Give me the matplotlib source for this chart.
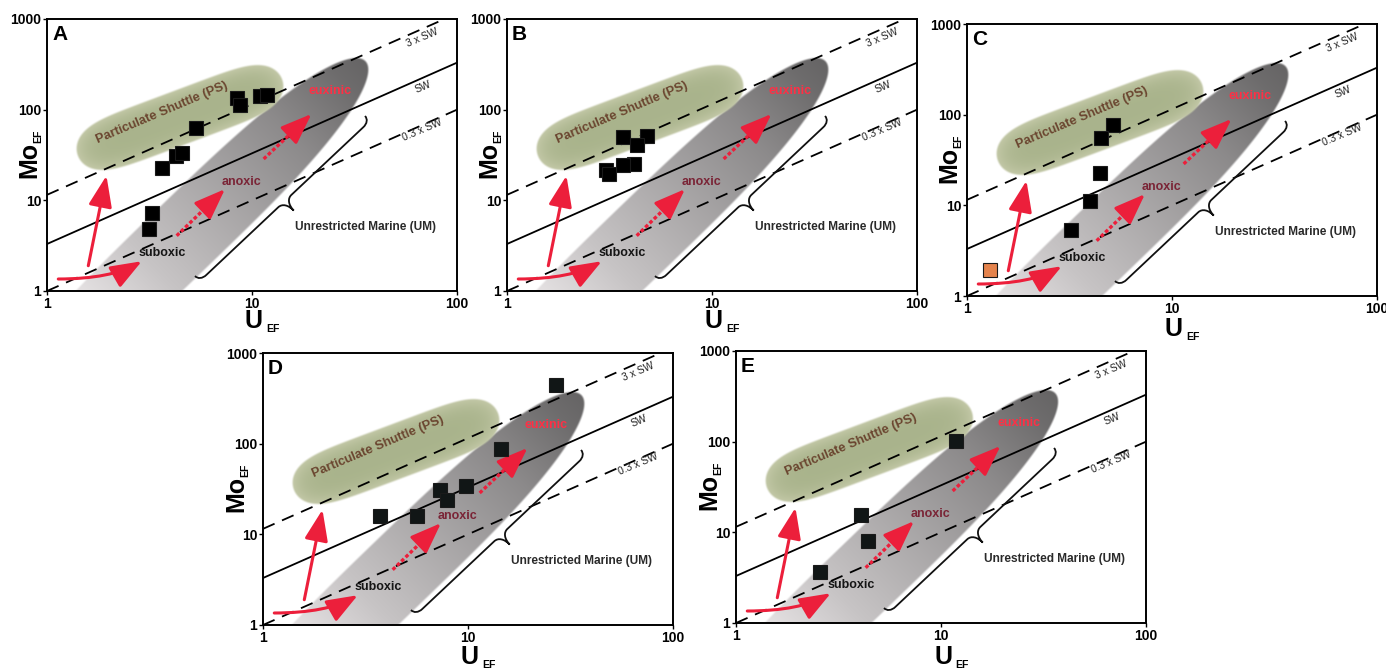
import numpy as np
import matplotlib
matplotlib.use("Agg")
import matplotlib.pyplot as plt
from matplotlib.transforms import Affine2D
from matplotlib.patches import FancyArrowPatch, PathPatch
from matplotlib.path import Path

plt.rcParams['font.family'] = ['Liberation Sans', 'DejaVu Sans']

# ---------------- data ----------------
panel_letters = ['A', 'B', 'C', 'D', 'E']

U_A = [3.64, 4.27, 4.55, 5.35, 8.45, 8.77, 11.0, 11.8, 3.25, 3.13]
Mo_A = [22.9, 30.8, 33.0, 63.4, 135, 114, 141, 144, 7.3, 4.87]

U_B = [3.67, 4.82, 4.31, 4.15, 3.67, 3.04, 3.13]
Mo_B = [50.3, 51.0, 40.4, 25.4, 24.5, 21.6, 19.4]

U_C = [5.15, 4.48, 4.45, 3.97, 3.20]
Mo_C = [77.5, 55.2, 22.6, 11.1, 5.38]
U_C_orange = [1.29]
Mo_C_orange = [1.92]

U_D = [27.0, 14.5, 9.74, 7.33, 7.90, 5.64, 3.74]
Mo_D = [445, 87, 33.7, 30.5, 24.0, 15.8, 15.8]

U_E = [11.8, 4.06, 4.38, 2.56]
Mo_E = [102, 15.6, 8.07, 3.65]

x_ticks = [1, 10, 100]
x_ticklabels = ['1', '10', '100']
y_ticks = [1, 10, 100, 1000]
y_ticklabels = ['1', '10', '100', '1000']

sw_labels = ['0.3 x SW', 'SW', '3 x SW']
sw_intercepts = [1.0, 3.3, 11.5]      # Mo_EF at U_EF = 1
sw_dashed = [True, False, True]
sw_label_pos = [(67.3, 59.7), (68.5, 176.5), (67.3, 628)]

panel_data = {
    'A': [(U_A, Mo_A, 'black')],
    'B': [(U_B, Mo_B, 'black')],
    'C': [(U_C, Mo_C, 'black'), (U_C_orange, Mo_C_orange, '#e4834c')],
    'D': [(U_D, Mo_D, '#111616')],
    'E': [(U_E, Mo_E, '#111616')],
}

# ---------------- layout ----------------
FIG_W, FIG_H = 1386, 670
AX_W, AX_H = 410, 272
panel_pos = {'A': (47, 19), 'B': (507, 19), 'C': (967, 24),
             'D': (263, 353), 'E': (736, 351)}
xlab_off = {'A': -30, 'B': -30, 'C': -33, 'D': -32, 'E': -34}
ylab_off = {'A': -18, 'B': -18, 'C': -18, 'D': -27, 'E': -27}

RED = '#ec1f3b'

fig = plt.figure(figsize=(FIG_W / 100, FIG_H / 100), dpi=100)
fig.patch.set_facecolor('white')


def make_field(cx, cy, ang, a, b, pu, pv, color_fn, soft=2.0, res=2):
    xs = (np.arange(AX_W * res) + 0.5) / res
    ys = (np.arange(AX_H * res) + 0.5) / res
    X, Y = np.meshgrid(xs, ys)
    th = np.radians(ang)
    c, s = np.cos(th), np.sin(th)
    dx, dy = X - cx, Y - cy
    u = dx * c + dy * s
    v = -dx * s + dy * c
    F = np.abs(u / a) ** pu + np.abs(v / b) ** pv
    gu = pu * np.abs(u) ** (pu - 1) / a ** pu
    gv = pv * np.abs(v) ** (pv - 1) / b ** pv
    g = np.hypot(gu, gv) + 1e-9
    dist = (1 - F) / g
    alpha = np.clip(dist / soft + 0.5, 0, 1)
    rgb = color_fn(u, v, F, a)
    return np.dstack([rgb, alpha])


def gray_color(u, v, F, a):
    d = a - u       # distance from the upper-right tip
    L = np.interp(d, [0, 29, 105, 195, 295, 362, 500],
                  [0.40, 0.43, 0.55, 0.66, 0.78, 0.89, 0.97])
    return np.dstack([L, L * 0.985, L * 0.99])


def ps_color(u, v, F, a):
    w = np.clip(F, 0, 1) ** 1.5
    c0 = np.array([0.665, 0.705, 0.55])
    c1 = np.array([0.765, 0.785, 0.655])
    return c0[None, None, :] * (1 - w[..., None]) + c1[None, None, :] * w[..., None]


gray_img = make_field(138.6, 56.1, 44.0, 250, 38, 3, 2, gray_color)
ps_img = make_field(133, 173.5, 20.5, 109, 27, 6, 2, ps_color)


def brace(ax, T, p0, p1, arm=7, tip=20, r=9):
    p0 = np.array(p0, float)
    p1 = np.array(p1, float)
    L = np.linalg.norm(p1 - p0)
    e1 = (p1 - p0) / L
    e2 = np.array([e1[1], -e1[0]])
    h = arm
    m = L / 2
    loc = [(0, 0), (0, h * 0.6), (r * 0.4, h), (r, h),
           (m - r, h),
           (m - r * 0.4, h), (m, h + (tip - h) * 0.4), (m, tip),
           (m, h + (tip - h) * 0.4), (m + r * 0.4, h), (m + r, h),
           (L - r, h),
           (L - r * 0.4, h), (L, h * 0.6), (L, 0)]
    codes = [Path.MOVETO, Path.CURVE4, Path.CURVE4, Path.CURVE4,
             Path.LINETO,
             Path.CURVE4, Path.CURVE4, Path.CURVE4,
             Path.CURVE4, Path.CURVE4, Path.CURVE4,
             Path.LINETO,
             Path.CURVE4, Path.CURVE4, Path.CURVE4]
    verts = [p0 + t * e1 + w * e2 for t, w in loc]
    ax.add_patch(PathPatch(Path(verts, codes), fill=False, lw=1.3,
                           edgecolor='#111111', transform=T, zorder=3,
                           clip_on=False))


ARROW_STYLE = '-|>,head_length=1.9,head_width=0.72'


def red_arrow(ax, p0, p1, conn='arc3,rad=0', dotted=False):
    if dotted:
        l0 = np.log10(np.array(p0))
        l1 = np.log10(np.array(p1))
        mid = 10 ** (l0 + 0.55 * (l1 - l0))
        ax.plot([p0[0], mid[0]], [p0[1], mid[1]], color=RED, lw=2.4,
                ls=(0, (1.1, 0.7)), dash_capstyle='butt', zorder=4)
        ar = FancyArrowPatch(tuple(mid), tuple(p1), arrowstyle=ARROW_STYLE,
                             mutation_scale=10, color=RED, lw=2.2,
                             shrinkA=0, shrinkB=0, zorder=4)
    else:
        ar = FancyArrowPatch(p0, p1, connectionstyle=conn,
                             arrowstyle=ARROW_STYLE, mutation_scale=10,
                             color=RED, lw=2.2, shrinkA=0, shrinkB=0,
                             zorder=4)
    ax.add_patch(ar)


for letter in panel_letters:
    left, top = panel_pos[letter]
    ax = fig.add_axes([left / FIG_W, 1 - (top + AX_H) / FIG_H,
                       AX_W / FIG_W, AX_H / FIG_H])
    ax.set_xscale('log')
    ax.set_yscale('log')
    ax.set_xlim(1, 100)
    ax.set_ylim(1, 1000)
    ax.set_autoscale_on(False)
    T = Affine2D().scale(1 / AX_W, 1 / AX_H) + ax.transAxes

    # fields
    ax.imshow(gray_img, extent=(0, AX_W, 0, AX_H), transform=T,
              origin='lower', aspect='auto', interpolation='bilinear',
              zorder=1)
    ax.imshow(ps_img, extent=(0, AX_W, 0, AX_H), transform=T,
              origin='lower', aspect='auto', interpolation='bilinear',
              zorder=1.1)

    # seawater reference lines
    xl = np.array([1.0, 100.0])
    for k, lab, dashed, pos in zip(sw_intercepts, sw_labels, sw_dashed,
                                   sw_label_pos):
        if dashed:
            ax.plot(xl, k * xl, color='black', lw=1.3, dashes=(7, 4.5),
                    zorder=2)
        else:
            ax.plot(xl, k * xl, color='black', lw=1.3, zorder=2)
        ax.text(pos[0], pos[1], lab, fontsize=7.5, rotation=23,
                ha='center', va='center', color='#222222', zorder=5)

    # brace
    brace(ax, T, (148, 15), (318, 175))

    # arrows
    red_arrow(ax, (1.135, 1.356), (2.9, 2.13),
              conn='angle3,angleA=0,angleB=30')
    red_arrow(ax, (1.59, 1.9), (1.95, 18.7))
    red_arrow(ax, (4.29, 4.07), (7.38, 13.3), dotted=True)
    red_arrow(ax, (11.4, 28.6), (19.5, 89.6), dotted=True)

    # field labels
    ax.text(3.63, 92, 'Particulate Shuttle (PS)', fontsize=9.3,
            fontweight='bold', rotation=23, ha='center', va='center',
            color='#6b4630', zorder=5)
    ax.text(3.63, 2.61, 'suboxic', fontsize=9, fontweight='bold',
            ha='center', va='center', color='#151515', zorder=5)
    ax.text(8.91, 15.8, 'anoxic', fontsize=9, fontweight='bold',
            ha='center', va='center', color='#7a2436', zorder=5)
    ax.text(24.0, 162, 'euxinic', fontsize=9, fontweight='bold',
            ha='center', va='center', color='#ff2f45', zorder=5)
    ax.text(35.6, 5.04, 'Unrestricted Marine (UM)', fontsize=8.6,
            fontweight='bold', ha='center', va='center', color='#2a2a2a',
            zorder=5)

    # data points
    for U, Mo, col in panel_data[letter]:
        ax.plot(U, Mo, 's', ms=9.5, mfc=col, mec='#1a1a1a', mew=0.8,
                zorder=6, clip_on=False)

    # panel letter
    ax.text(5, AX_H - 6, letter, transform=T, fontsize=15,
            fontweight='bold', ha='left', va='top', zorder=7)

    # axes labels
    ax.text(207, xlab_off[letter], 'U', transform=T, fontsize=18,
            fontweight='bold', ha='center', va='center', clip_on=False)
    ax.text(219, xlab_off[letter] - 8, 'EF', transform=T, fontsize=7.5,
            fontweight='bold', ha='left', va='center', clip_on=False)
    ax.text(ylab_off[letter], 131, 'Mo', transform=T, fontsize=18,
            fontweight='bold', rotation=90, ha='center', va='center',
            clip_on=False)
    ax.text(ylab_off[letter] + 9, 155, 'EF', transform=T, fontsize=7.5,
            fontweight='bold', rotation=90, ha='center', va='center',
            clip_on=False)

    # ticks
    ax.set_xticks(x_ticks)
    ax.set_xticklabels(x_ticklabels)
    ax.set_yticks(y_ticks)
    ax.set_yticklabels(y_ticklabels)
    ax.minorticks_off()
    ax.tick_params(direction='out', length=3, width=1.0, labelsize=10,
                   pad=1.2)
    for t in ax.get_xticklabels() + ax.get_yticklabels():
        t.set_fontweight('bold')
    for sp in ax.spines.values():
        sp.set_linewidth(1.4)

fig.savefig('out.png', dpi=100, facecolor='white')
